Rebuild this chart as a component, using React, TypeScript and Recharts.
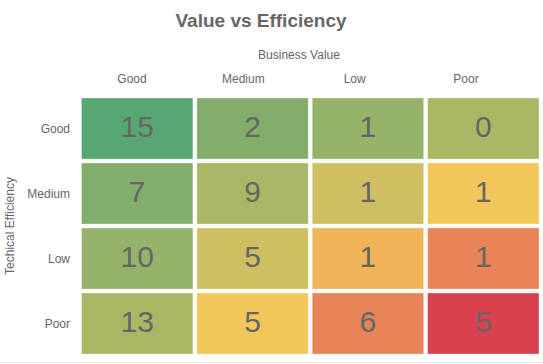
import { ScatterChart, Scatter, XAxis, YAxis } from 'recharts';

// Business value (columns) and technical efficiency (rows)
const businessValue = ['Good', 'Medium', 'Low', 'Poor'];
const techEfficiency = ['Good', 'Medium', 'Low', 'Poor'];

// counts per row, ordered by business value
const goodRow = [15, 2, 1, 0];
const mediumRow = [7, 9, 1, 1];
const lowRow = [10, 5, 1, 1];
const poorRow = [13, 5, 6, 5];

const rows = [goodRow, mediumRow, lowRow, poorRow];

// fill per cell, same layout as rows
const cellColors = [
  ['#57a773', '#82ad6a', '#96b469', '#aab866'],
  ['#82ae6b', '#a9b766', '#cfbf62', '#f3c65a'],
  ['#95b469', '#cdbf62', '#f0b459', '#e88457'],
  ['#aab866', '#f3c65a', '#e88457', '#d9414f'],
];

const cells = rows.flatMap((values, r) =>
  values.map((value, c) => ({ x: c, y: r, value }))
);

const WIDTH = 543;
const HEIGHT = 364;
const MARGIN = { top: 66, right: 2, bottom: 8, left: 0 };
const Y_AXIS_W = 79.5;
const X_AXIS_H = 30;
const GAP = 4;
const FONT = '"Liberation Sans", Arial, Helvetica, sans-serif';
const TEXT = '#666666';

const plotW = WIDTH - MARGIN.left - MARGIN.right - Y_AXIS_W;
const plotH = HEIGHT - MARGIN.top - MARGIN.bottom - X_AXIS_H;
const cellW = plotW / businessValue.length - GAP;
const cellH = plotH / techEfficiency.length - GAP;

function HeatCell(props: any) {
  const { cx, cy, payload } = props;
  if (cx == null || cy == null) return null;
  return (
    <g>
      <rect
        x={cx - cellW / 2}
        y={cy - cellH / 2}
        width={cellW}
        height={cellH}
        fill={cellColors[payload.y][payload.x]}
        stroke="rgba(255,255,255,0.3)"
        strokeWidth={1}
      />
      <text
        x={cx}
        y={cy + 8.5}
        textAnchor="middle"
        fontSize={30}
        fontFamily={FONT}
        fill={TEXT}
      >
        {payload.value}
      </text>
    </g>
  );
}

const NoShape = () => null;

export default function App() {
  return (
    <div
      style={{
        position: 'absolute',
        left: 0,
        top: 0,
        width: WIDTH,
        height: HEIGHT,
        background: '#fff',
        fontFamily: FONT,
      }}
    >
      <div
        style={{
          position: 'absolute',
          left: 0,
          top: 11,
          width: 522,
          textAlign: 'center',
          fontSize: 19,
          lineHeight: '19px',
          fontWeight: 'bold',
          color: TEXT,
        }}
      >
        Value vs Efficiency
      </div>
      <div
        style={{
          position: 'absolute',
          left: 0,
          top: 49.3,
          width: 598,
          textAlign: 'center',
          fontSize: 12,
          lineHeight: '12px',
          color: TEXT,
        }}
      >
        Business Value
      </div>
      <ScatterChart width={WIDTH} height={HEIGHT} margin={MARGIN}>
        <XAxis
          xAxisId="cells"
          dataKey="x"
          type="number"
          domain={[-0.5, 3.5]}
          hide
        />
        <XAxis
          xAxisId="labels"
          dataKey="x"
          type="number"
          orientation="top"
          domain={[-0.4716, 3.674]}
          ticks={[0, 1, 2, 3]}
          tickFormatter={(v: number) => businessValue[v]}
          height={X_AXIS_H}
          axisLine={false}
          tickLine={false}
          tickSize={0}
          tickMargin={13}
          tick={{ fill: TEXT, fontSize: 12, fontFamily: FONT }}
          allowDataOverflow
        />
        <YAxis
          dataKey="y"
          type="number"
          domain={[-0.5, 3.5]}
          reversed
          ticks={[0, 1, 2, 3]}
          tickFormatter={(v: number) => techEfficiency[v]}
          width={Y_AXIS_W}
          axisLine={false}
          tickLine={false}
          tickSize={0}
          tickMargin={9.5}
          tick={{ fill: TEXT, fontSize: 12, fontFamily: FONT }}
          label={{
            value: 'Techical Efficiency',
            angle: -90,
            position: 'insideLeft',
            offset: 10,
            style: { textAnchor: 'middle', fill: TEXT, fontSize: 12, fontFamily: FONT },
          }}
        />
        <Scatter
          xAxisId="cells"
          data={cells}
          shape={HeatCell}
          isAnimationActive={false}
        />
        {/* bound to the label axis only so its ticks get drawn */}
        <Scatter
          xAxisId="labels"
          data={cells}
          shape={NoShape}
          isAnimationActive={false}
        />
      </ScatterChart>
      <div
        style={{
          position: 'absolute',
          left: 0,
          top: 362,
          width: WIDTH,
          height: 1,
          background: '#e6e6e6',
        }}
      />
    </div>
  );
}
